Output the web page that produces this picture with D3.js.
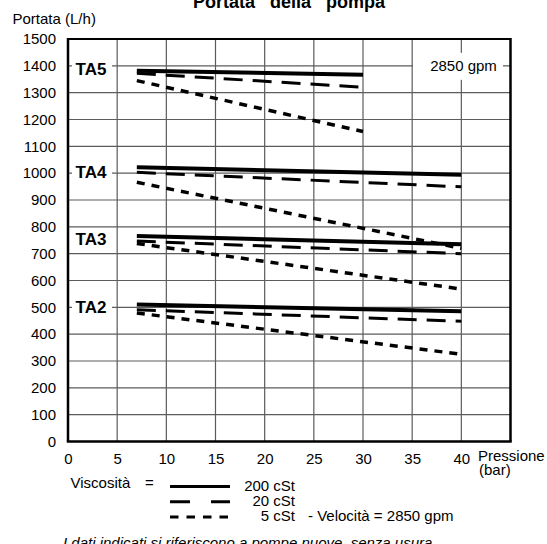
<!DOCTYPE html>
<html><head><meta charset="utf-8">
<script src="https://cdn.jsdelivr.net/npm/d3@7"></script>
<style>
body{margin:0;background:#fff}
svg{display:block}
text{font-family:"Liberation Sans",Arial,Helvetica,sans-serif;fill:#000}
</style>
</head><body>
<svg id="c" width="547" height="544"></svg>
<script>
// ---- data ----
const pressureTicks = [0,5,10,15,20,25,30,35,40];
const flowTicks = [0,100,200,300,400,500,600,700,800,900,1000,1100,1200,1300,1400,1500];
const models = ["TA5","TA4","TA3","TA2"];
const modelLabelFlow = [1390,1003,756,502];
const viscosities = ["200 cSt","20 cSt","5 cSt"];
const startPressure = [7,7,7,7];
const endPressure = [30,40,40,40];
const flow200Start = [1382,1022,766,511];
const flow200End   = [1367,994,735,485];
const flow20Start  = [1372,1003,747,491];
const flow20End    = [1320,949,700,448];
const flow5Start   = [1345,966,738,479];
const flow5End     = [1155,720,568,325];

// ---- layout ----
const svg = d3.select("#c");
const x = d3.scaleLinear().domain([0,45]).range([68,510.5]);
const y = d3.scaleLinear().domain([0,1500]).range([441.5,39]);
const FS = 15;

const styles = [
  {w:4, dash:null},
  {w:3, dash:"19,10"},
  {w:3.5, dash:"8,7"}
];
const legendDash = [null, "20,21", "8.5,8"];

// grid
const grid = svg.append("g").attr("stroke","#5c5c5c").attr("stroke-width",1.2);
grid.selectAll(".v").data(pressureTicks.filter(d=>d>0)).join("line")
  .attr("x1",d=>x(d)).attr("x2",d=>x(d)).attr("y1",y(0)).attr("y2",y(1500));
grid.selectAll(".h").data(flowTicks.filter(d=>d>0 && d<1500)).join("line")
  .attr("x1",x(0)).attr("x2",x(45)).attr("y1",d=>y(d)).attr("y2",d=>y(d));

// label backgrounds
svg.append("g").selectAll("rect").data(models).join("rect")
  .attr("x",72).attr("width",40)
  .attr("y",(d,i)=>y(modelLabelFlow[i])-7).attr("height",14)
  .attr("fill","#fff");
svg.append("rect").attr("x",413).attr("width",90).attr("y",y(1400)-13).attr("height",27).attr("fill","#fff");

// border
const b = svg.append("g").attr("stroke","#000").attr("fill","none");
b.append("line").attr("x1",x(0)).attr("x2",x(45)).attr("y1",y(1500)).attr("y2",y(1500)).attr("stroke-width",1.8);
b.append("line").attr("x1",x(0)-1.2).attr("x2",x(45)+1.2).attr("y1",y(0)).attr("y2",y(0)).attr("stroke-width",2.5);
b.append("line").attr("x1",x(0)).attr("x2",x(0)).attr("y1",y(1500)-0.9).attr("y2",y(0)).attr("stroke-width",2.5);
b.append("line").attr("x1",x(45)).attr("x2",x(45)).attr("y1",y(1500)-0.9).attr("y2",y(0)).attr("stroke-width",2.5);

// axes
const ax = svg.append("g").attr("transform",`translate(0,${y(0)})`)
  .call(d3.axisBottom(x).tickValues(pressureTicks).tickFormat(d3.format("d")).tickSize(0).tickPadding(12));
ax.select(".domain").remove();
ax.selectAll("text").attr("font-size",FS).attr("font-family",null);
const ay = svg.append("g").attr("transform",`translate(${x(0)},0)`)
  .call(d3.axisLeft(y).tickValues(flowTicks).tickFormat(d3.format("d")).tickSize(0).tickPadding(12));
ay.select(".domain").remove();
ay.selectAll("text").attr("font-size",FS).attr("font-family",null);

// series
const series = [];
models.forEach((m,i)=>{
  const starts = [flow200Start[i], flow20Start[i], flow5Start[i]];
  const ends = [flow200End[i], flow20End[i], flow5End[i]];
  viscosities.forEach((v,j)=>{
    series.push({model:m, visc:v, s:j, pts:[[startPressure[i],starts[j]],[endPressure[i],ends[j]]]});
  });
});
const line = d3.line().x(d=>x(d[0])).y(d=>y(d[1]));
svg.append("g").selectAll("path").data(series).join("path")
  .attr("d",d=>line(d.pts)).attr("fill","none").attr("stroke","#000")
  .attr("stroke-width",d=>styles[d.s].w)
  .attr("stroke-dasharray",d=>styles[d.s].dash);

// model labels
svg.append("g").selectAll("text").data(models).join("text")
  .attr("x",91).attr("y",(d,i)=>y(modelLabelFlow[i])).attr("dy","0.36em")
  .attr("text-anchor","middle").attr("font-weight","bold").attr("font-size",17)
  .text(d=>d);

svg.append("text").attr("x",463.5).attr("y",y(1400)).attr("dy","0.35em")
  .attr("text-anchor","middle").attr("font-size",FS).text("2850 gpm");

// titles
svg.append("text").attr("x",289).attr("y",8).attr("text-anchor","middle")
  .attr("font-weight","bold").attr("font-size",18).attr("word-spacing","10px")
  .text("Portata della pompa");
svg.append("text").attr("x",12.5).attr("y",24).attr("font-size",FS).text("Portata (L/h)");
svg.append("text").attr("x",478).attr("y",460.5).attr("font-size",FS).text("Pressione");
svg.append("text").attr("x",479).attr("y",475).attr("font-size",FS).text("(bar)");

// legend
svg.append("text").attr("x",70.5).attr("y",488).attr("font-size",FS).text("Viscosità");
svg.append("text").attr("x",145).attr("y",488).attr("font-size",FS).text("=");
const lg = svg.append("g");
viscosities.forEach((v,j)=>{
  const ly = 486.5 + j*15.2;
  lg.append("line").attr("x1",170).attr("x2",230).attr("y1",ly).attr("y2",ly)
    .attr("stroke","#000").attr("stroke-width",3).attr("stroke-dasharray",legendDash[j]);
  lg.append("text").attr("x",295).attr("y",ly+3).attr("dy","0.1em").attr("text-anchor","end")
    .attr("font-size",FS).text(v);
});
svg.append("text").attr("x",308).attr("y",520.5).attr("font-size",FS).text("- Velocità = 2850 gpm");
svg.append("text").attr("x",63).attr("y",547.5).attr("font-size",FS).attr("font-style","italic")
  .text("I dati indicati si riferiscono a pompe nuove, senza usura.");
</script>
</body></html>
